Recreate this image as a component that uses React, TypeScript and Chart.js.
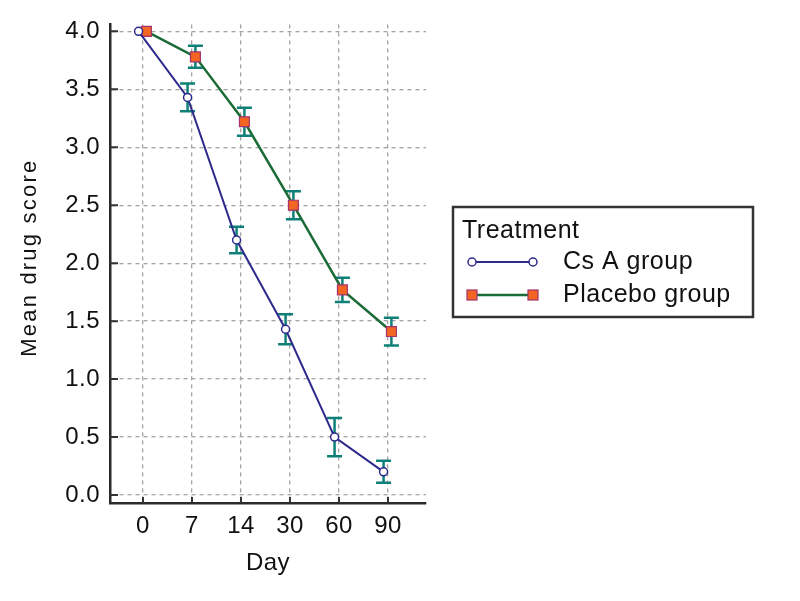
import React, { useEffect, useRef } from "react";
import { Chart, registerables } from "chart.js";

Chart.register(...registerables);

const days = ["0", "7", "14", "30", "60", "90"];
const seriesNames = ["Cs A group", "Placebo group"];
const legendTitle = "Treatment";
const yTitle = "Mean drug score";
const csA = [4.0, 3.43, 2.2, 1.43, 0.5, 0.2];
const csAErr = [0, 0.12, 0.115, 0.13, 0.165, 0.095];
const placebo = [4.0, 3.78, 3.22, 2.5, 1.77, 1.41];
const placeboErr = [0, 0.095, 0.12, 0.12, 0.105, 0.12];
const yTicks = [0, 0.5, 1.0, 1.5, 2.0, 2.5, 3.0, 3.5, 4.0];
const dodge = [-0.09, 0.07];

const FONT = "'Liberation Sans', Arial, sans-serif";
const BLUE = "#2e2a8c";
const GREEN = "#1b6b37";
const TEAL = "#0e8078";
const ORANGE = "#f26522";
const SQ_BORDER = "#a3326e";

const errorBars = {
  id: "errorBars",
  beforeDraw(chart: any) {
    chart.ctx.letterSpacing = "0.5px";
  },
  beforeDatasetsDraw(chart: any) {
    const { ctx, scales } = chart;
    const xs = scales.x;
    const ys = scales.y;
    const sets = [
      { v: csA, e: csAErr, d: dodge[0] },
      { v: placebo, e: placeboErr, d: dodge[1] },
    ];
    ctx.save();
    ctx.strokeStyle = TEAL;
    ctx.lineWidth = 2.5;
    sets.forEach((s) => {
      s.v.forEach((val, i) => {
        if (!s.e[i]) return;
        const x = xs.getPixelForValue(i + s.d);
        const y1 = ys.getPixelForValue(val + s.e[i]);
        const y2 = ys.getPixelForValue(val - s.e[i]);
        ctx.beginPath();
        ctx.moveTo(x, y1);
        ctx.lineTo(x, y2);
        ctx.moveTo(x - 7.5, y1);
        ctx.lineTo(x + 7.5, y1);
        ctx.moveTo(x - 7.5, y2);
        ctx.lineTo(x + 7.5, y2);
        ctx.stroke();
      });
    });
    ctx.restore();
  },
  afterDraw(chart: any) {
    const { ctx, scales, chartArea } = chart;
    const xs = scales.x;
    const ys = scales.y;
    ctx.save();
    // inner tick marks
    ctx.strokeStyle = "#333";
    ctx.lineWidth = 2;
    ctx.beginPath();
    yTicks.forEach((t) => {
      const y = ys.getPixelForValue(t);
      ctx.moveTo(chartArea.left, y);
      ctx.lineTo(chartArea.left + 8, y);
    });
    days.forEach((_, i) => {
      const x = xs.getPixelForValue(i);
      ctx.moveTo(x, chartArea.bottom);
      ctx.lineTo(x, chartArea.bottom - 6);
    });
    ctx.stroke();

    // y axis title
    ctx.save();
    ctx.translate(30, (chartArea.top + chartArea.bottom) / 2 - 6);
    ctx.rotate(-Math.PI / 2);
    ctx.font = `22px ${FONT}`;
    ctx.letterSpacing = "2.2px";
    ctx.fillStyle = "#111";
    ctx.textAlign = "center";
    ctx.textBaseline = "middle";
    ctx.fillText(yTitle, 0, 0);
    ctx.restore();

    // legend
    ctx.letterSpacing = "0.5px";
    const bx = 453, by = 207, bw = 300, bh = 110;
    ctx.fillStyle = "#fff";
    ctx.fillRect(bx, by, bw, bh);
    ctx.strokeStyle = "#333";
    ctx.lineWidth = 2.5;
    ctx.strokeRect(bx, by, bw, bh);
    ctx.fillStyle = "#111";
    ctx.font = `25px ${FONT}`;
    ctx.textBaseline = "alphabetic";
    ctx.textAlign = "left";
    ctx.fillText(legendTitle, 462, 238);
    const rows = [262, 295];
    const lx1 = 472, lx2 = 533;
    // row 1
    ctx.strokeStyle = BLUE;
    ctx.lineWidth = 2;
    ctx.beginPath();
    ctx.moveTo(lx1, rows[0]);
    ctx.lineTo(lx2, rows[0]);
    ctx.stroke();
    [lx1, lx2].forEach((x) => {
      ctx.beginPath();
      ctx.arc(x, rows[0], 4, 0, Math.PI * 2);
      ctx.fillStyle = "#fff";
      ctx.fill();
      ctx.lineWidth = 1.5;
      ctx.strokeStyle = BLUE;
      ctx.stroke();
    });
    // row 2
    ctx.strokeStyle = GREEN;
    ctx.lineWidth = 2.5;
    ctx.beginPath();
    ctx.moveTo(lx1, rows[1]);
    ctx.lineTo(lx2, rows[1]);
    ctx.stroke();
    [lx1, lx2].forEach((x) => {
      ctx.fillStyle = ORANGE;
      ctx.fillRect(x - 5, rows[1] - 5, 10, 10);
      ctx.lineWidth = 1.2;
      ctx.strokeStyle = SQ_BORDER;
      ctx.strokeRect(x - 5, rows[1] - 5, 10, 10);
    });
    ctx.fillStyle = "#111";
    ctx.textBaseline = "middle";
    ctx.fillText(seriesNames[0], 563, rows[0]);
    ctx.fillText(seriesNames[1], 563, rows[1]);
    ctx.restore();
  },
};

export default function App() {
  const ref = useRef<HTMLCanvasElement>(null);
  useEffect(() => {
    if (!ref.current) return;
    Chart.defaults.font.family = FONT;
    const gridOpts = { color: "#a3a3a3", lineWidth: 1.3, drawTicks: false };
    const borderOpts = { display: true, color: "#2a2a2a", width: 2.5, dash: [4, 4] };
    const chart = new Chart(ref.current, {
      type: "line",
      data: {
        datasets: [
          {
            label: seriesNames[0],
            data: csA.map((v, i) => ({ x: i + dodge[0], y: v })),
            borderColor: BLUE,
            borderWidth: 2,
            backgroundColor: "#fff",
            pointBackgroundColor: "#fff",
            pointBorderColor: BLUE,
            pointBorderWidth: 1.5,
            pointRadius: 4,
            pointStyle: "circle",
            tension: 0,
          },
          {
            label: seriesNames[1],
            data: placebo.map((v, i) => ({ x: i + dodge[1], y: v })),
            borderColor: GREEN,
            borderWidth: 2.5,
            backgroundColor: ORANGE,
            pointBackgroundColor: ORANGE,
            pointBorderColor: SQ_BORDER,
            pointBorderWidth: 1.2,
            pointRadius: 7,
            pointStyle: "rect",
            tension: 0,
          },
        ],
      },
      plugins: [errorBars],
      options: {
        animation: false,
        responsive: false,
        devicePixelRatio: 1,
        layout: { padding: { top: 24, right: 374, left: 0, bottom: 0 } },
        plugins: { legend: { display: false }, tooltip: { enabled: false } },
        scales: {
          x: {
            type: "linear",
            min: -0.673,
            max: 5.776,
            afterBuildTicks: (s: any) => {
              s.ticks = days.map((_, i) => ({ value: i }));
            },
            afterFit: (s: any) => {
              s.height = 98;
            },
            ticks: {
              callback: (v: any) => days[v] ?? "",
              font: { size: 24 },
              color: "#111",
              padding: 9,
              maxRotation: 0,
              autoSkip: false,
            },
            grid: gridOpts,
            border: borderOpts,
            title: {
              display: true,
              text: "Day",
              font: { size: 24 },
              color: "#111",
              padding: { top: 0, bottom: 23 },
            },
          },
          y: {
            type: "linear",
            min: -0.069,
            max: 4.06,
            afterBuildTicks: (s: any) => {
              s.ticks = yTicks.map((v) => ({ value: v }));
            },
            afterFit: (s: any) => {
              s.width = 110;
            },
            ticks: {
              callback: (v: any) => Number(v).toFixed(1),
              font: { size: 24 },
              color: "#111",
              padding: 10,
            },
            grid: gridOpts,
            border: borderOpts,
            title: { display: false },
          },
        },
      },
    } as any);
    return () => chart.destroy();
  }, []);
  return (
    <div style={{ position: "absolute", left: 0, top: 0, width: 800, height: 601, background: "#fff" }}>
      <canvas ref={ref} width={800} height={601} style={{ display: "block" }} />
    </div>
  );
}
